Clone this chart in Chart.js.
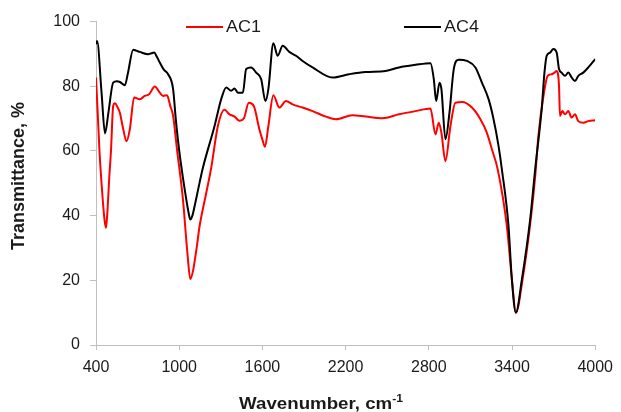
<!DOCTYPE html>
<html>
<head>
<meta charset="utf-8">
<script src="https://cdn.jsdelivr.net/npm/chart.js@4/dist/chart.umd.min.js"></script>
<style>
  html, body { margin: 0; padding: 0; background: #ffffff; }
  #c { display: block; }
</style>
</head>
<body>
<canvas id="c" width="621" height="412"></canvas>
<script>
// ---- Data ----
const xTickValues = [400, 1000, 1600, 2200, 2800, 3400, 4000];
const yTickValues = [0, 20, 40, 60, 80, 100];
const seriesNames = ['AC1', 'AC4'];

const ac1Wavenumber = [400, 412, 425, 445, 462, 472, 482, 496, 508, 524, 537, 555, 572, 595, 620, 644, 675, 716, 752, 783, 824, 860, 884, 912, 935, 956, 984, 1027, 1060, 1080, 1100, 1124, 1147, 1190, 1231, 1279, 1327, 1363, 1399, 1435, 1466, 1502, 1538, 1578, 1600, 1619, 1643, 1679, 1722, 1770, 1818, 1890, 1962, 2058, 2130, 2249, 2345, 2465, 2585, 2705, 2812, 2848, 2872, 2891, 2920, 2956, 2992, 3040, 3111, 3172, 3219, 3255, 3297, 3363, 3399, 3428, 3476, 3535, 3567, 3590, 3627, 3657, 3686, 3706, 3722, 3739, 3746, 3763, 3782, 3806, 3830, 3854, 3878, 3914, 3950, 4000];
const ac1Transmittance = [82.7, 72, 60, 47, 38.5, 36.2, 41, 52, 60, 73.9, 74.7, 73.5, 71.8, 67, 63.0, 66.7, 76.5, 76.0, 77.0, 77.5, 79.9, 78.0, 77.0, 77.2, 74, 70.8, 60.5, 45.0, 28, 20.4, 23, 29.5, 36.7, 46, 54.8, 67.7, 72.7, 71.3, 70.6, 69.3, 70.0, 74.9, 73.9, 66.7, 63.5, 61.3, 67.7, 77.2, 73.4, 75.4, 74.4, 73.4, 72.3, 70.6, 69.8, 71.0, 70.6, 70.1, 71.3, 72.3, 73.1, 65.1, 68.7, 65.6, 56.8, 67.7, 74.9, 75.1, 73.4, 69.8, 65.6, 60.5, 54.3, 36.7, 20.5, 10.0, 20.2, 38.8, 52, 64.6, 77.0, 83.2, 83.7, 84.2, 84.7, 80.1, 70.8, 72.3, 71.3, 72.3, 70.3, 71.3, 69.2, 68.7, 69.2, 69.5];

const ac4Wavenumber = [400, 408, 440, 465, 490, 524, 550, 572, 608, 630, 668, 690, 716, 776, 800, 819, 840, 860, 889, 920, 956, 975, 999, 1040, 1065, 1080, 1095, 1111, 1147, 1171, 1255, 1303, 1339, 1375, 1399, 1423, 1459, 1483, 1519, 1555, 1591, 1622, 1643, 1679, 1710, 1746, 1794, 1842, 1890, 1962, 2105, 2225, 2345, 2489, 2585, 2705, 2812, 2836, 2853, 2877, 2891, 2920, 2949, 2980, 3016, 3075, 3136, 3183, 3231, 3267, 3303, 3327, 3375, 3399, 3428, 3471, 3531, 3567, 3614, 3634, 3650, 3675, 3698, 3722, 3739, 3758, 3782, 3806, 3830, 3854, 3878, 3914, 3950, 4000];
const ac4Transmittance = [93.0, 94.0, 78, 65.4, 72, 81.1, 81.5, 81.3, 80.3, 84, 91.3, 91.0, 90.6, 89.9, 90.2, 90.4, 89.0, 87.3, 85.1, 83.7, 79.1, 70, 60.5, 48, 41.5, 38.8, 40, 42.9, 50.2, 54.8, 67.7, 76.0, 79.6, 78.6, 79.3, 78.0, 78.0, 85.3, 85.8, 84.2, 82.2, 75.4, 79.1, 93.3, 89.4, 92.5, 90.6, 89.4, 87.8, 85.8, 82.7, 83.7, 84.4, 84.7, 85.8, 86.6, 87.1, 82.2, 75.4, 81.1, 79.1, 63.6, 71.8, 85.3, 88.2, 87.8, 85.8, 81.1, 76.0, 69.8, 61.5, 54.3, 36.7, 20.2, 10.0, 20.2, 38.8, 54.3, 72.9, 84.2, 89.4, 90.4, 91.5, 90.4, 85.3, 84.2, 83.2, 84.2, 82.7, 81.6, 83.2, 84.2, 85.8, 88.4];

const toPoints = (xs, ys) => xs.map((x, i) => ({ x: x, y: ys[i] }));

// ---- Styling ----
const FONT = "'Liberation Sans', Arial, Helvetica, sans-serif";
Chart.defaults.font.family = FONT;
Chart.defaults.color = '#1a1a1a';

const overlay = {
  id: 'overlay',
  afterDraw(chart) {
    const ctx = chart.ctx;
    const area = chart.chartArea;
    ctx.save();
    // Legend (drawn from dataset labels/colours)
    const legendY = area.top + 5.5;
    const items = [
      { ds: chart.data.datasets[0], lineStart: 186 },
      { ds: chart.data.datasets[1], lineStart: 404 }
    ];
    ctx.font = '16px ' + FONT;
    ctx.textBaseline = 'middle';
    ctx.textAlign = 'left';
    items.forEach(it => {
      ctx.strokeStyle = it.ds.borderColor;
      ctx.lineWidth = 2;
      ctx.beginPath();
      ctx.moveTo(it.lineStart, legendY);
      ctx.lineTo(it.lineStart + 37, legendY);
      ctx.stroke();
      ctx.fillStyle = '#1a1a1a';
      ctx.save();
      ctx.translate(it.lineStart + 40, legendY);
      ctx.scale(1.12, 1);
      ctx.fillText(it.ds.label, 0, 1);
      ctx.restore();
    });

    // X axis title with superscript
    const main = 'Wavenumber, cm';
    const sup = '-1';
    ctx.fillStyle = '#1a1a1a';
    ctx.font = 'bold 17px ' + FONT;
    const wMain = ctx.measureText(main).width;
    ctx.font = 'bold 11px ' + FONT;
    const wSup = ctx.measureText(sup).width;
    const sx = 1.1;
    const total = (wMain + wSup) * sx;
    const cx = 321, cy = 403;
    ctx.save();
    ctx.translate(cx - total / 2, cy);
    ctx.scale(sx, 1);
    ctx.textBaseline = 'alphabetic';
    ctx.font = 'bold 17px ' + FONT;
    ctx.fillText(main, 0, 6);
    ctx.font = 'bold 11px ' + FONT;
    ctx.fillText(sup, wMain, -1);
    ctx.restore();

    // Y axis title
    ctx.save();
    ctx.translate(19, 176);
    ctx.rotate(-Math.PI / 2);
    ctx.font = 'bold 18px ' + FONT;
    ctx.textAlign = 'center';
    ctx.textBaseline = 'middle';
    ctx.fillText('Transmittance, %', 0, 0);
    ctx.restore();
    ctx.restore();
  }
};

new Chart(document.getElementById('c'), {
  type: 'line',
  data: {
    datasets: [
      {
        label: seriesNames[0],
        data: toPoints(ac1Wavenumber, ac1Transmittance),
        borderColor: '#ff0000',
        borderWidth: 2,
        pointRadius: 0,
        fill: false,
        cubicInterpolationMode: 'monotone',
        order: 2
      },
      {
        label: seriesNames[1],
        data: toPoints(ac4Wavenumber, ac4Transmittance),
        borderColor: '#000000',
        borderWidth: 2,
        pointRadius: 0,
        fill: false,
        cubicInterpolationMode: 'monotone',
        order: 1
      }
    ]
  },
  options: {
    responsive: false,
    animation: false,
    devicePixelRatio: 1,
    layout: { padding: { left: 0, right: 24, top: 21.5, bottom: 0 } },
    plugins: { legend: { display: false }, tooltip: { enabled: false } },
    scales: {
      x: {
        type: 'linear',
        min: 400,
        max: 4000,
        afterBuildTicks: (s) => { s.ticks = xTickValues.map(v => ({ value: v })); },
        afterFit: (s) => { s.height = 67; },
        ticks: { font: { size: 16 }, padding: 8, maxRotation: 0, autoSkip: false, color: '#1a1a1a',
                 callback: (v) => String(v) },
        grid: { drawOnChartArea: false, drawTicks: true, tickLength: 5, color: '#bfbfbf' },
        border: { display: true, color: '#bfbfbf', width: 1 }
      },
      y: {
        min: 0,
        max: 100,
        afterBuildTicks: (s) => { s.ticks = yTickValues.map(v => ({ value: v })); },
        afterFit: (s) => { s.width = 96; },
        ticks: { font: { size: 16 }, padding: 10, color: '#1a1a1a', callback: (v) => String(v) },
        grid: { drawOnChartArea: false, drawTicks: true, tickLength: 6, color: '#bfbfbf' },
        border: { display: true, color: '#bfbfbf', width: 1 }
      }
    }
  },
  plugins: [overlay]
});
</script>
</body>
</html>
